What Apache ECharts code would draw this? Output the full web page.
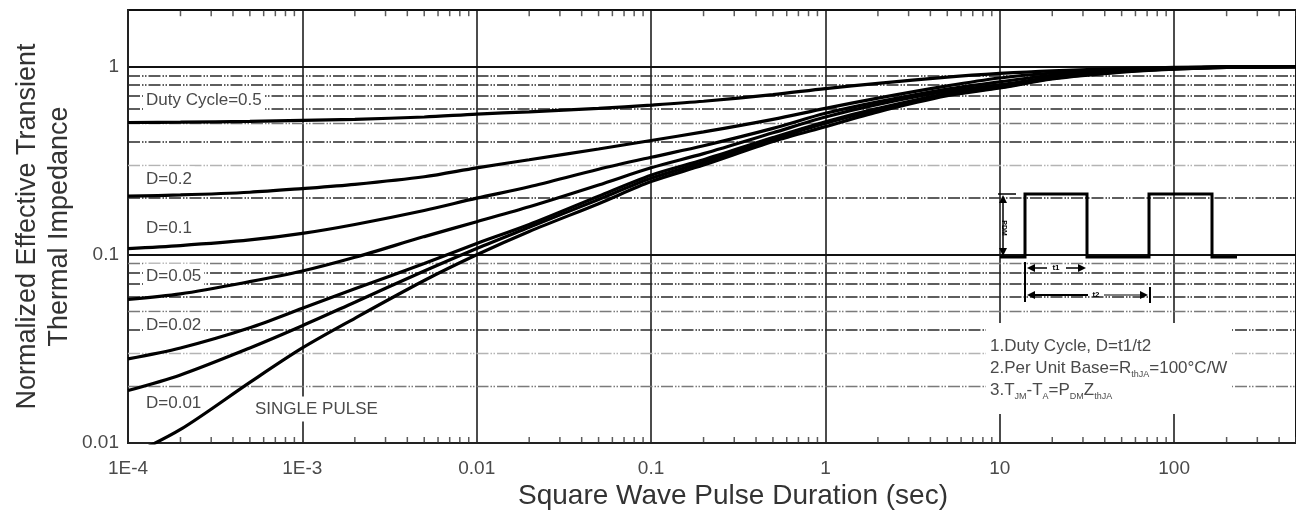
<!DOCTYPE html>
<html>
<head>
<meta charset="utf-8">
<script src="https://cdn.jsdelivr.net/npm/echarts@6/dist/echarts.min.js"></script>
<style>
html,body{margin:0;padding:0;background:#fff;}
#chart{width:1296px;height:515px;}
</style>
</head>
<body>
<div id="chart"></div>
<script>
// ---------- data ----------
const pulseTimes = [1e-4, 2e-4, 5e-4, 1e-3, 2e-3, 5e-3, 0.01, 0.02, 0.05, 0.1, 0.2, 0.5, 1, 2, 5, 10, 20, 50, 100, 200, 500];
const duty05 = [0.505,0.507,0.512,0.518,0.525,0.54,0.56,0.575,0.60,0.625,0.655,0.71,0.765,0.815,0.88,0.92,0.95,0.975,0.99,0.998,1.0];
const duty02 = [0.205,0.208,0.215,0.225,0.237,0.26,0.29,0.32,0.365,0.405,0.45,0.525,0.60,0.68,0.79,0.87,0.925,0.965,0.985,0.996,1.0];
const duty01 = [0.108,0.112,0.12,0.13,0.145,0.172,0.2,0.23,0.285,0.33,0.38,0.47,0.565,0.65,0.76,0.83,0.9,0.955,0.98,0.995,1.0];
const duty005 = [0.058,0.062,0.072,0.082,0.097,0.125,0.15,0.18,0.235,0.29,0.345,0.445,0.54,0.63,0.74,0.8,0.88,0.95,0.978,0.994,1.0];
const duty002 = [0.028,0.032,0.041,0.052,0.066,0.09,0.115,0.145,0.205,0.265,0.32,0.42,0.51,0.6,0.72,0.78,0.87,0.945,0.975,0.993,1.0];
const duty001 = [0.019,0.023,0.032,0.042,0.056,0.082,0.108,0.14,0.197,0.255,0.31,0.41,0.5,0.59,0.71,0.775,0.865,0.94,0.973,0.992,1.0];
const singlePulse = [0.0085,0.0118,0.021,0.032,0.046,0.073,0.1,0.133,0.187,0.245,0.3,0.4,0.48,0.575,0.7,0.77,0.86,0.935,0.97,0.99,1.0];

const xTickValues = [1e-4, 1e-3, 0.01, 0.1, 1, 10, 100];
const xTickLabels = ['1E-4', '1E-3', '0.01', '0.1', '1', '10', '100'];
const yTickValues = [0.01, 0.1, 1];
const yTickLabels = ['0.01', '0.1', '1'];
const xDecades = [1e-4, 1e-3, 0.01, 0.1, 1, 10, 100];
const minorMultipliers = [2, 3, 4, 5, 6, 7, 8, 9];
const yMinorGrid = [0.02,0.03,0.04,0.05,0.06,0.07,0.08,0.09,0.2,0.3,0.4,0.5,0.6,0.7,0.8,0.9];
const yMinorLight = [0.03, 0.3];
const yMinorMid = [0.02, 0.05, 0.09, 0.5];

const curveLabels = ['Duty Cycle=0.5', 'D=0.2', 'D=0.1', 'D=0.05', 'D=0.02', 'D=0.01', 'SINGLE PULSE'];
const noteLines = ['1.Duty Cycle, D=t1/t2', '2.Per Unit Base=R{s|thJA}=100°C/W', '3.T{s|JM}-T{s|A}=P{s|DM}Z{s|thJA}'];

// ---------- build ----------
const FONT = '"Liberation Sans", Arial, sans-serif';
const pairs = ys => pulseTimes.map((t, i) => [t, ys[i]]);
const curves = [
  ['D=0.5', duty05], ['D=0.2', duty02], ['D=0.1', duty01], ['D=0.05', duty005],
  ['D=0.02', duty002], ['D=0.01', duty001], ['Single Pulse', singlePulse]
];
const near = (a, b) => Math.abs(Math.log10(a) - Math.log10(b)) < 1e-6;
const fmt = (vals, labels) => v => { const i = vals.findIndex(x => near(x, v)); return i < 0 ? '' : labels[i]; };

const minorX = [];
xDecades.forEach(d => minorMultipliers.forEach(m => { if (d * m <= 500) minorX.push(d * m); }));

const dashDot = [12, 2, 1.5, 1.5, 1.5, 2];
const minorGridData = yMinorGrid.map(v => {
  let color = '#2a2a2a', width = 1.6;
  if (yMinorLight.some(w => near(w, v))) { color = '#b4b4b4'; width = 1.3; }
  else if (yMinorMid.some(w => near(w, v))) { color = '#7a7a7a'; width = 1.4; }
  return { yAxis: v, lineStyle: { color, width, type: dashDot } };
});

const series = [];
series.push({
  type: 'line', data: [], z: 1, silent: true,
  markLine: { z: 1, silent: true, symbol: ['none', 'none'], label: { show: false }, animation: false, data: minorGridData }
});
curves.forEach(([name, ys]) => {
  series.push({
    name, type: 'line', data: pairs(ys), smooth: 0.3, showSymbol: false, symbol: 'none',
    lineStyle: { color: '#000', width: 3.2 }, z: 5, clip: true, silent: true
  });
});
series.push({
  type: 'scatter', data: minorX.map(x => [x, 0.01]), symbol: 'rect', symbolSize: [1.5, 6], symbolOffset: [0, -3],
  itemStyle: { color: '#333' }, z: 6, silent: true, clip: false
});
series.push({
  type: 'scatter', data: minorX.map(x => [x, 1.995]), symbol: 'rect', symbolSize: [1.5, 6], symbolOffset: [0, 3],
  itemStyle: { color: '#333' }, z: 6, silent: true, clip: false
});

const labelPos = [[143, 100], [143, 179], [143, 228], [143, 276], [143, 325], [143, 403], [252, 409]];
const graphics = curveLabels.map((t, i) => ({
  type: 'text', x: labelPos[i][0], y: labelPos[i][1], z: 3, silent: true,
  style: { text: t, font: '17px ' + FONT, fill: '#4a4a4a', verticalAlign: 'middle', align: 'left',
           backgroundColor: '#fff', padding: [4, 3] }
}));
graphics.push({ type: 'rect', shape: { x: 986, y: 323, width: 246, height: 91 }, style: { fill: '#fff' }, z: 3, silent: true });
graphics.push({
  type: 'text', x: 990, y: 335, z: 4, silent: true,
  style: { text: noteLines.join('\n'), font: '17px ' + FONT, fill: '#4a4a4a', lineHeight: 22, verticalAlign: 'top',
           rich: { s: { fontSize: 9, fontFamily: FONT, fill: '#4a4a4a', verticalAlign: 'bottom', lineHeight: 22 } } }
});
// pulse illustration
const ln = (pts, w) => ({ type: 'polyline', shape: { points: pts }, style: { stroke: '#000', lineWidth: w, fill: null }, z: 7, silent: true });
const tri = pts => ({ type: 'polygon', shape: { points: pts }, style: { fill: '#000' }, z: 7, silent: true });
graphics.push(ln([[1000,257],[1025,257],[1025,194],[1087,194],[1087,257],[1149,257],[1149,194],[1212,194],[1212,257],[1237,257]], 3));
graphics.push(ln([[1003,198],[1003,253]], 1.5));
graphics.push(ln([[998,194],[1016,194]], 1.5));
graphics.push(tri([[1003,195],[999,203],[1007,203]]));
graphics.push(tri([[1003,256],[999,248],[1007,248]]));
graphics.push({ type: 'text', x: 1004, y: 228, rotation: -Math.PI / 2, z: 7, silent: true,
  style: { text: 'PDM', font: 'bold 7px ' + FONT, fill: '#000', align: 'center', verticalAlign: 'middle' } });
graphics.push(ln([[1025,262],[1025,302]], 2));
graphics.push(ln([[1029,268],[1047,268]], 1.5));
graphics.push(ln([[1066,268],[1082,268]], 1.5));
graphics.push(tri([[1027,268],[1035,264],[1035,272]]));
graphics.push(tri([[1086,268],[1078,264],[1078,272]]));
graphics.push({ type: 'text', x: 1056, y: 268, z: 7, silent: true,
  style: { text: 't1', font: 'bold 8px ' + FONT, fill: '#000', align: 'center', verticalAlign: 'middle' } });
graphics.push(ln([[1029,295],[1088,295]], 2.2));
graphics.push(ln([[1104,295],[1145,295]], 1));
graphics.push(tri([[1027,295],[1035,291],[1035,299]]));
graphics.push(tri([[1148,295],[1140,291],[1140,299]]));
graphics.push(ln([[1150,287],[1150,303]], 2));
graphics.push({ type: 'text', x: 1096, y: 295, z: 7, silent: true,
  style: { text: 't2', font: 'bold 8px ' + FONT, fill: '#000', align: 'center', verticalAlign: 'middle' } });

const option = {
  animation: false,
  backgroundColor: '#fff',
  grid: { left: 128, right: 0, top: 10, bottom: 68, show: true, borderColor: '#222', borderWidth: 2, backgroundColor: 'transparent' },
  xAxis: {
    type: 'log', logBase: 10, min: 1e-4, max: 500, interval: 1,
    name: 'Square Wave Pulse Duration (sec)', nameLocation: 'middle', nameGap: 39, nameMoveOverlap: false,
    nameTextStyle: { fontSize: 28, color: '#333', fontFamily: FONT, padding: [0, 0, 0, 42] },
    axisLine: { show: true, lineStyle: { color: '#222', width: 2 } },
    axisTick: { show: false },
    axisLabel: { formatter: fmt(xTickValues, xTickLabels), fontSize: 19, color: '#4a4a4a', fontFamily: FONT, margin: 16, showMaxLabel: false },
    splitLine: { show: true, lineStyle: { color: '#111', width: 1.5 } },
    minorTick: { show: false }, minorSplitLine: { show: false }
  },
  yAxis: {
    type: 'log', logBase: 10, min: 0.01, max: 2, interval: 1,
    name: 'Normalized Effective Transient\nThermal Impedance', nameLocation: 'middle', nameRotate: 90, nameGap: 52, nameMoveOverlap: false,
    nameTextStyle: { fontSize: 27, lineHeight: 32, color: '#333', fontFamily: FONT },
    axisLine: { show: true, lineStyle: { color: '#222', width: 2 } },
    axisTick: { show: false },
    axisLabel: { formatter: fmt(yTickValues, yTickLabels), fontSize: 19, color: '#4a4a4a', fontFamily: FONT, margin: 9, showMaxLabel: false },
    splitLine: { show: true, lineStyle: { color: '#111', width: 2 } },
    minorTick: { show: false }, minorSplitLine: { show: false }
  },
  series,
  graphic: graphics
};
const chart = echarts.init(document.getElementById('chart'), null, { renderer: 'canvas' });
chart.setOption(option);
</script>
</body>
</html>
